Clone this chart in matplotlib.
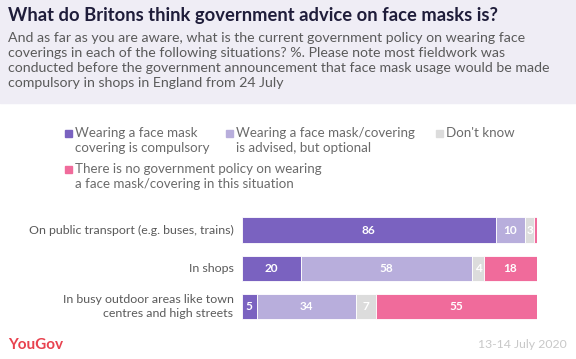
import matplotlib.pyplot as plt
from matplotlib.patches import Rectangle

# datos
categories = ['On public transport (e.g. buses, trains)',
              'In shops',
              'In busy outdoor areas like town\ncentres and high streets']
compulsory = [86, 20, 5]
advised = [10, 58, 34]
dont_know = [3, 4, 7]
no_policy = [1, 18, 55]

series_names = ['Wearing a face mask\ncovering is compulsory',
                'Wearing a face mask/covering\nis advised, but optional',
                "Don't know",
                'There is no government policy on wearing\na face mask/covering in this situation']
colors = ['#7a62c0', '#b8aedc', '#dcdcdc', '#f06b9b']

title = 'What do Britons think government advice on face masks is?'
subtitle = ('And as far as you are aware, what is the current government policy on wearing face\n'
            'coverings in each of the following situations? %. Please note most fieldwork was\n'
            'conducted before the government announcement that face mask usage would be made\n'
            'compulsory in shops in England from 24 July')
date_txt = '13-14 July 2020'

plt.rcParams['font.family'] = ['Lato', 'DejaVu Sans']

W, H = 576, 359
fig = plt.figure(figsize=(W / 100, H / 100), dpi=100)
fig.patch.set_facecolor('white')

def fx(px):
    return px / W

def fy(py):
    return 1 - py / H

# cabecera
fig.patches.append(Rectangle((0, fy(103)), 1, 1 - fy(103), transform=fig.transFigure,
                             color='#efedf5', zorder=0))
fig.text(fx(8), fy(16), title, fontsize=13.2, fontweight='bold', color='#1f1d3a',
         va='center', ha='left')
fig.text(fx(8), fy(32), subtitle, fontsize=10.2, color='#5a5a5a', va='top', ha='left',
         linespacing=1.3)

# leyenda manual
leg_pos = [(65, 133), (226, 133), (436, 133), (65, 169)]
for (x, y), name, c in zip(leg_pos, series_names, colors):
    fig.patches.append(Rectangle((fx(x), fy(y + 4)), fx(7), 7 / H,
                                 transform=fig.transFigure, color=c))
    fig.text(fx(x + 10), fy(y - 6), name, fontsize=9.6, color='#6b6b6b',
             va='top', ha='left', linespacing=1.27)

# barras
ax = fig.add_axes([fx(242), fy(325.6), fx(537) - fx(242), fy(211) - fy(325.6)])
rows = list(zip(compulsory, advised, dont_know, no_policy))
for i, vals in enumerate(rows):
    tot = sum(vals)
    left = 0
    for v, c in zip(vals, colors):
        w = v / tot * 100
        ax.barh(i, w, left=left, height=0.66, color=c, edgecolor='white', linewidth=0.6)
        if v >= 3:
            ax.text(left + w / 2, i, str(v), ha='center', va='center', color='white',
                    fontsize=8.5, fontweight='bold')
        left += w
ax.set_xlim(0, 100)
ax.set_ylim(2.5, -0.5)
ax.axis('off')

for i, cat in enumerate(categories):
    ax.text(-2.9, i, cat, ha='right', va='center', fontsize=8.9, color='#5a5a5a',
            linespacing=1.3)

# pie
fig.text(fx(8), fy(345), 'YouGov', fontsize=11, fontweight='bold', color='#e8424f',
         va='center', ha='left')
fig.text(fx(567), fy(345), date_txt, fontsize=8.8, color='#c8c8c8', va='center', ha='right')

fig.savefig('out.png', dpi=100)
